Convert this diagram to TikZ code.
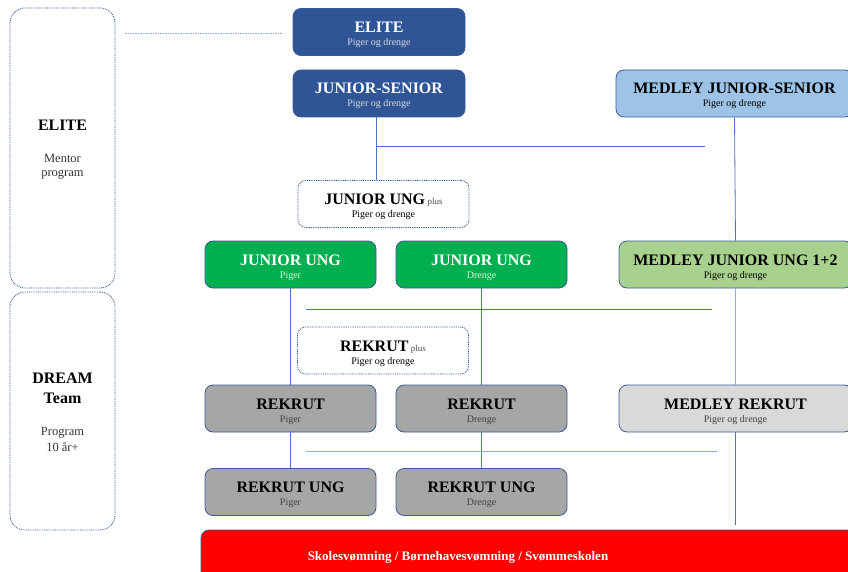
\documentclass[tikz,border=0pt]{standalone}
\usepackage{fontspec}
\setmainfont{Liberation Serif}
\definecolor{dblue}{HTML}{2F5597}
\definecolor{bord}{HTML}{3A5A9A}
\definecolor{lblue}{HTML}{9DC3E6}
\definecolor{jgreen}{HTML}{00B050}
\definecolor{mgreen}{HTML}{A9D18E}
\definecolor{rgray}{HTML}{A6A6A6}
\definecolor{lgray}{HTML}{D9D9D9}
\definecolor{lineA}{HTML}{4A72C0}
\definecolor{lineB}{HTML}{8FAADC}
\definecolor{dots}{HTML}{2F5597}
\newcommand\ttl[1]{{\fontsize{16}{13}\selectfont\bfseries #1}}
\newcommand\sbt[1]{{\fontsize{10}{13}\selectfont #1}}
\newcommand\tsm[1]{{\fontsize{9}{13}\selectfont\color{black!70}#1}}
\begin{document}
\begin{tikzpicture}[x=1pt,y=-1pt,
  box/.style={rounded corners=8pt, draw=bord, line width=0.8pt, inner sep=0pt,
    minimum width=171pt, text height=37pt, text depth=10pt, align=center,
    font=\fontsize{10}{13}\selectfont},
  dotbox/.style={box, draw=dots, line width=0.8pt, dash pattern=on 0.9pt off 0.9pt, fill=white},
  sidebox/.style={rounded corners=15pt, draw=dots, line width=0.8pt, dash pattern=on 0.9pt off 0.9pt,
    inner sep=0pt, minimum width=105pt},
  sidetxt/.style={anchor=base, font=\fontsize{12.5}{14}\selectfont, text=black!80},
  sidehead/.style={anchor=base, font=\fontsize{16}{18}\selectfont\bfseries},
  conn/.style={draw=lineA, line width=0.8pt},
  connl/.style={draw=lineB, line width=0.9pt}]
\useasboundingbox (0,0) rectangle (848,572);
\clip (0,0) rectangle (848,572);

% side boxes
\node[sidebox, minimum height=280pt] (sideElite) at (62.5,148) {};
\node[sidebox, minimum height=238pt] (sideDream) at (62.5,411) {};
\node[sidehead] (tElite) at (62.5,131) {ELITE};
\node[sidetxt] (tMentor) at (62.5,163) {Mentor};
\node[sidetxt] (tProgram) at (62.5,177) {program};
\node[sidehead] (tDream) at (62.5,383) {DREAM};
\node[sidehead] (tTeam) at (62.5,403) {Team};
\node[sidetxt] (tProg) at (62.5,435) {Program};
\node[sidetxt] (tAge) at (62.5,451) {10 år+};

\coordinate (d1) at (125,33);
\coordinate (d2) at (282,33);
\draw[draw=lineB, line width=0.9pt, dash pattern=on 1.5pt off 1pt] (d1) -- (d2);

% boxes
\node[box, fill=dblue, text=white, minimum width=172pt] (elite) at (379,32) {\ttl{ELITE}\\\textcolor{lgray}{\sbt{Piger og drenge}}};
\node[box, fill=dblue, text=white, minimum width=172pt] (js) at (379,93.5) {\ttl{JUNIOR-SENIOR}\\\textcolor{lgray}{\sbt{Piger og drenge}}};
\node[box, fill=lblue, minimum width=237pt] (mjs) at (734.5,93.5) {\ttl{MEDLEY JUNIOR-SENIOR}\\\sbt{Piger og drenge}};
\node[dotbox] (jup) at (383.5,204) {\ttl{JUNIOR UNG} \tsm{plus}\\\sbt{Piger og drenge}};
\node[box, fill=jgreen, text=white] (jupi) at (290.5,264.5) {\ttl{JUNIOR UNG}\\\textcolor{green!15}{\sbt{Piger}}};
\node[box, fill=jgreen, text=white] (jud) at (481.5,264.5) {\ttl{JUNIOR UNG}\\\textcolor{green!15}{\sbt{Drenge}}};
\node[box, fill=mgreen, minimum width=233pt] (mju) at (735.5,264.5) {\ttl{MEDLEY JUNIOR UNG 1+2}\\\sbt{Piger og drenge}};
\node[dotbox] (rp) at (383,350.5) {\ttl{REKRUT} \tsm{plus}\\\sbt{Piger og drenge}};
\node[box, fill=rgray] (rkp) at (290.5,408.5) {\ttl{REKRUT}\\\textcolor{black!75}{\sbt{Piger}}};
\node[box, fill=rgray] (rkd) at (481.5,408.5) {\ttl{REKRUT}\\\textcolor{black!75}{\sbt{Drenge}}};
\node[box, fill=lgray, minimum width=233pt] (mr) at (735.5,408.5) {\ttl{MEDLEY REKRUT}\\\textcolor{black!75}{\sbt{Piger og drenge}}};
\node[box, fill=rgray] (rup) at (290.5,492) {\ttl{REKRUT UNG}\\\textcolor{black!75}{\sbt{Piger}}};
\node[box, fill=rgray] (rud) at (481.5,492) {\ttl{REKRUT UNG}\\\textcolor{black!75}{\sbt{Drenge}}};
\node[rounded corners=8pt, draw=bord, line width=0.8pt, fill=red, minimum width=660pt, minimum height=50pt, inner sep=0pt] (red) at (531,555) {};
\node[anchor=base, text=white, font=\fontsize{13}{15}\selectfont\bfseries] (redtxt) at (458,560) {Skolesvømning / Børnehavesvømning / Svømmeskolen};

% connectors
\draw[conn] ([xshift=-3pt]js.south) -- ([xshift=-3pt]js.south |- jup.north);
\coordinate (h1a) at (376,146);
\coordinate (h1b) at (705,146);
\draw[conn] (h1a) -- (h1b);
\draw[conn] (mjs.south) -- (mju.north);
\draw[conn] (jupi.south) -- (rkp.north);
\draw[conn] (jud.south) -- (rkd.north);
\coordinate (h2a) at (306,309);
\coordinate (h2b) at (712,309);
\draw[conn] (h2a) -- (h2b);
\draw[connl] (mju.south) -- (mr.north);
\draw[conn] (rkp.south) -- (rup.north);
\draw[conn] (rkd.south) -- (rud.north);
\coordinate (h3a) at (306,451);
\coordinate (h3b) at (717,451);
\draw[connl] (h3a) -- (h3b);
\coordinate (mrend) at (735.5,525);
\draw[conn] (mr.south) -- (mrend);
\end{tikzpicture}
\end{document}
